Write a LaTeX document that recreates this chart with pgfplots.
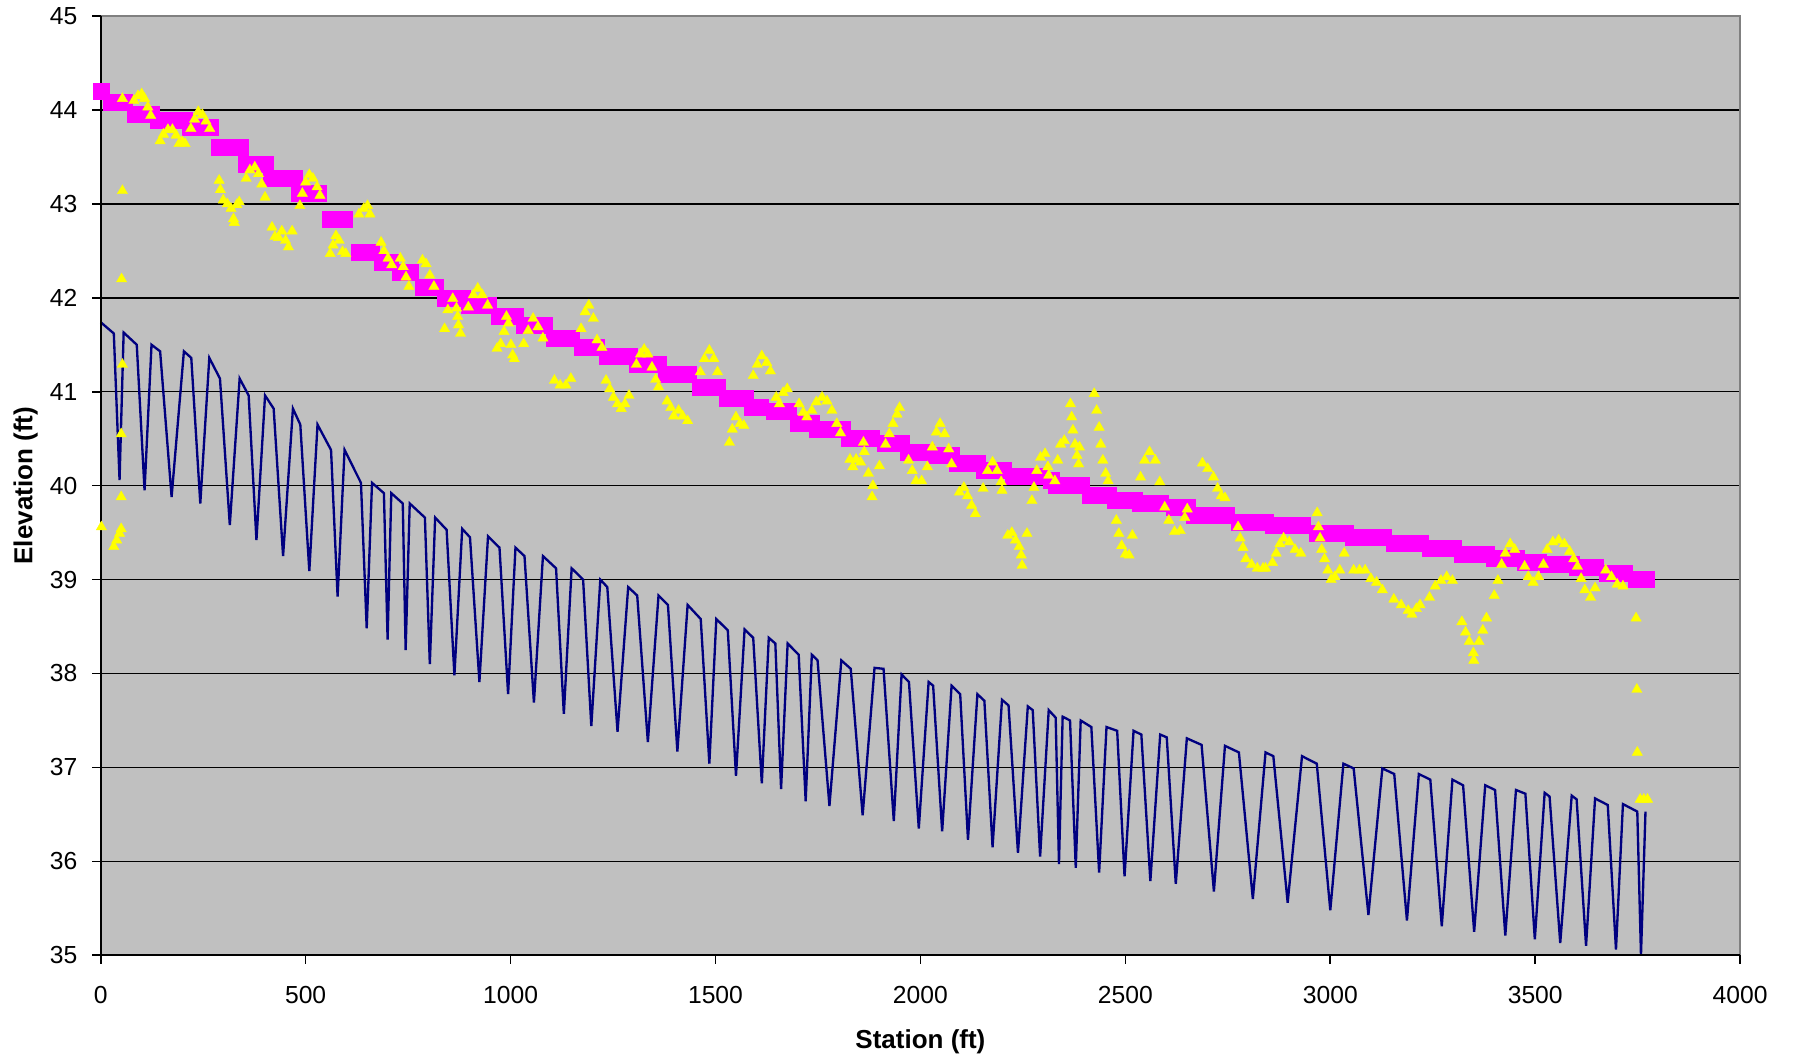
\documentclass[border=0pt]{standalone}
\usepackage{fontspec}
\setmainfont{Liberation Sans}
\usepackage{pgfplots}
\pgfplotsset{compat=1.18}
\definecolor{plotgray}{HTML}{C0C0C0}
\definecolor{bordergray}{HTML}{808080}
\definecolor{navyline}{HTML}{000080}
\definecolor{mag}{HTML}{FF00FF}
\definecolor{yel}{HTML}{FFFF00}
\begin{document}
\begin{tikzpicture}
\begin{axis}[
  at={(0,0)}, anchor=south west,
  scale only axis, width=491.85pt, height=281.8pt,
  xmin=0, xmax=4000, ymin=35, ymax=45,
  xtick={0,500,...,4000}, ytick={35,36,...,45},
  ymajorgrids, grid style={black, line width=0.45pt},
  axis background/.style={fill=plotgray},
  axis line style={draw=none},
  tick align=outside, tick pos=left,
  major tick length=2.5pt,
  tick style={black, line width=0.5pt},
  clip=false,
  /pgf/number format/assume math mode=true,
  /pgf/number format/set thousands separator={},
  ticklabel style={font=\fontsize{7.4}{8}\selectfont},
  xticklabel style={yshift=-3.4pt},
  yticklabel style={xshift=-1pt},
  xlabel={\textbf{Station (ft)}},
  ylabel={\textbf{Elevation (ft)}},
  label style={font=\fontsize{7.8}{9}\selectfont},
  xlabel style={at={(axis description cs:0.5,0)}, anchor=base, yshift=-28pt},
  ylabel style={at={(axis description cs:0,0.5)}, anchor=base, yshift=20.5pt},
]
% navy sawtooth
\addplot[navyline, line width=0.7pt, mark=none] coordinates {
(0,41.74) (32,41.62) (46,40.06) (56,41.63) (88,41.50) (107,39.95) (124,41.50) (145,41.43) (173,39.88)
(203,41.43) (221,41.36) (243,39.81) (265,41.36) (291,41.14) (315,39.58) (339,41.14) (361,40.96) (380,39.42)
(401,40.96) (422,40.82) (445,39.25) (469,40.82) (487,40.65) (509,39.09) (529,40.65) (562,40.38) (578,38.82)
(595,40.38) (635,40.03) (649,38.48) (662,40.03) (691,39.92) (700,38.36) (709,39.92) (737,39.81) (744,38.25)
(754,39.81) (791,39.66) (803,38.10) (816,39.66) (844,39.53) (863,37.98) (882,39.54) (901,39.45) (924,37.91)
(945,39.46) (973,39.34) (994,37.78) (1012,39.34) (1034,39.25) (1057,37.69) (1079,39.25) (1111,39.12) (1130,37.57)
(1149,39.12) (1177,39.00) (1197,37.44) (1219,39.00) (1236,38.92) (1261,37.38) (1287,38.92) (1309,38.83) (1335,37.27)
(1361,38.83) (1384,38.73) (1407,37.17) (1432,38.73) (1464,38.58) (1485,37.04) (1502,38.58) (1530,38.46) (1550,36.91)
(1571,38.47) (1592,38.38) (1613,36.83) (1630,38.38) (1646,38.32) (1660,36.77) (1676,38.32) (1703,38.20) (1720,36.64)
(1735,38.20) (1749,38.14) (1778,36.59) (1807,38.14) (1830,38.05) (1859,36.49) (1888,38.06) (1910,38.05) (1935,36.43)
(1954,37.99) (1972,37.91) (1996,36.35) (2020,37.91) (2031,37.87) (2053,36.32) (2076,37.87) (2097,37.78) (2116,36.23)
(2139,37.78) (2156,37.71) (2176,36.15) (2199,37.72) (2215,37.66) (2238,36.09) (2262,37.65) (2274,37.61) (2292,36.05)
(2313,37.61) (2330,37.53) (2338,35.97) (2347,37.54) (2365,37.50) (2379,35.93) (2391,37.50) (2417,37.43) (2436,35.88)
(2454,37.43) (2480,37.39) (2498,35.84) (2520,37.39) (2539,37.35) (2561,35.79) (2585,37.35) (2601,37.32) (2623,35.76)
(2650,37.31) (2686,37.24) (2716,35.68) (2743,37.23) (2777,37.16) (2811,35.60) (2842,37.16) (2861,37.12) (2896,35.56)
(2931,37.12) (2967,37.04) (3000,35.48) (3032,37.04) (3057,36.99) (3093,35.43) (3127,36.99) (3156,36.93) (3187,35.37)
(3216,36.93) (3244,36.87) (3272,35.31) (3298,36.87) (3324,36.81) (3351,35.25) (3378,36.81) (3402,36.76) (3427,35.21)
(3453,36.76) (3476,36.72) (3499,35.17) (3523,36.73) (3535,36.69) (3561,35.13) (3589,36.70) (3601,36.66) (3624,35.10)
(3646,36.67) (3677,36.60) (3697,35.06) (3714,36.61) (3749,36.53) (3758,35.00) (3769,36.53)
};
% magenta squares
\addplot[color=mag, only marks, mark=square*, mark size=2.4pt, mark options={solid, draw=mag, fill=mag, line width=0.1pt}] coordinates {
(1,44.20)
(26,44.08) (42,44.08) (58,44.08)
(85,43.96) (104,43.96) (123,43.96)
(141,43.89) (162,43.89) (182,43.89) (203,43.89)
(218,43.82) (242,43.82) (266,43.82)
(288,43.60) (314,43.60) (340,43.60)
(356,43.42) (379,43.42) (402,43.42)
(417,43.27) (444,43.27) (471,43.27)
(484,43.11) (508,43.11) (531,43.11)
(559,42.84) (577,42.84) (594,42.84)
(631,42.49) (646,42.49) (660,42.49)
(687,42.38) (707,42.38)
(731,42.27) (754,42.27)
(787,42.11) (802,42.11) (817,42.11)
(841,42.00) (862,42.00) (883,42.00)
(898,41.92) (922,41.92) (945,41.92)
(971,41.80) (991,41.80) (1011,41.80)
(1032,41.71) (1057,41.71) (1081,41.71)
(1107,41.57) (1128,41.57) (1148,41.57)
(1175,41.47) (1192,41.47) (1210,41.47)
(1235,41.38) (1262,41.38) (1289,41.38)
(1308,41.29) (1335,41.29) (1361,41.29)
(1380,41.19) (1407,41.19) (1433,41.19)
(1462,41.05) (1483,41.05) (1504,41.05)
(1529,40.93) (1551,40.93) (1573,40.93)
(1590,40.84) (1610,40.84)
(1644,40.79) (1661,40.79) (1678,40.79)
(1701,40.67) (1718,40.67) (1734,40.67)
(1747,40.60) (1768,40.60) (1789,40.60) (1809,40.60)
(1827,40.51) (1853,40.51) (1879,40.51)
(1913,40.45) (1934,40.45) (1954,40.45)
(1971,40.36) (1993,40.36) (2014,40.36)
(2039,40.32) (2057,40.32) (2075,40.32)
(2090,40.24) (2115,40.24) (2139,40.24)
(2155,40.17) (2178,40.17) (2201,40.17)
(2227,40.10) (2248,40.10) (2269,40.10) (2290,40.10)
(2320,40.06)
(2330,40.00) (2361,40.00) (2393,40.00)
(2414,39.90) (2436,39.90) (2458,39.90)
(2475,39.85) (2498,39.85) (2521,39.85)
(2537,39.81) (2562,39.81) (2586,39.81)
(2620,39.77) (2635,39.77) (2650,39.77)
(2668,39.69) (2694,39.69) (2720,39.69) (2745,39.69)
(2778,39.61) (2799,39.61) (2821,39.61) (2842,39.61)
(2861,39.58) (2885,39.58) (2908,39.58) (2932,39.58)
(2968,39.49) (2991,39.49) (3013,39.49) (3036,39.49)
(3057,39.45) (3081,39.45) (3105,39.45) (3129,39.45)
(3155,39.39) (3187,39.39) (3219,39.39)
(3243,39.33) (3272,39.33) (3300,39.33)
(3321,39.27) (3351,39.27) (3380,39.27)
(3400,39.23) (3427,39.23) (3454,39.23)
(3476,39.18) (3492,39.18) (3508,39.18)
(3532,39.16) (3560,39.16) (3588,39.16)
(3603,39.13) (3625,39.13) (3646,39.13)
(3675,39.07) (3696,39.07) (3716,39.07)
(3747,39.00) (3759,39.00) (3771,39.00)
};
% yellow triangles
\addplot[color=yel, only marks, mark=triangle*, mark size=1.8pt, mark options={solid, draw=yel, fill=yel, line width=0.1pt}] coordinates {
(1.7,39.56) (32,39.35) (39,39.42) (46,39.49) (50,39.54) (50,39.88) (50,40.55) (53,41.29) (51,42.20) (53,43.14)
(53,44.12) (81,44.10) (91,44.15) (100,44.17) (107,44.12) (115,44.03) (122,43.94)
(145,43.67) (153,43.74) (164,43.79) (175,43.79) (184,43.73) (191,43.64) (199,43.66) (206,43.64)
(220,43.80) (229,43.90) (238,43.98) (248,43.95) (257,43.88) (266,43.80)
(289,43.25) (292,43.15) (299,43.04) (309,43.00) (318,42.95) (324,42.84) (326,42.80) (332,42.99) (338,43.02)
(355,43.27) (364,43.36) (376,43.39) (385,43.32) (393,43.21) (401,43.07)
(418,42.75) (425,42.65) (434,42.64) (442,42.71) (451,42.61) (458,42.54) (467,42.71)
(486,42.98) (492,43.11) (500,43.23) (509,43.31) (518,43.27) (528,43.18) (535,43.09)
(560,42.47) (567,42.56) (574,42.66) (582,42.61) (590,42.49) (598,42.47)
(630,42.89) (642,42.95) (651,42.98) (657,42.89)
(684,42.59) (691,42.50) (701,42.42) (710,42.35)
(731,42.42) (738,42.33) (745,42.22) (752,42.12)
(785,42.40) (794,42.36) (803,42.24) (813,42.12)
(839,41.67) (847,41.87) (859,41.99) (868,41.89) (871,41.80) (873,41.71) (878,41.62)
(897,41.90) (909,42.03) (920,42.10) (931,42.03) (944,41.92)
(967,41.46) (976,41.51) (984,41.64) (990,41.80) (995,41.73) (1001,41.50) (1005,41.39) (1009,41.35)
(1032,41.51) (1043,41.65) (1055,41.78) (1067,41.69) (1079,41.57)
(1107,41.12) (1121,41.07) (1135,41.07) (1147,41.14)
(1172,41.67) (1182,41.85) (1191,41.92) (1202,41.78) (1211,41.55) (1223,41.47)
(1233,41.12) (1242,41.03) (1251,40.94) (1261,40.87) (1270,40.82) (1279,40.87) (1289,40.96)
(1307,41.29) (1317,41.40) (1326,41.45) (1335,41.40) (1345,41.26) (1354,41.13) (1361,41.05)
(1382,40.90) (1391,40.83) (1398,40.74) (1410,40.80) (1420,40.74) (1432,40.69)
(1463,41.21) (1473,41.35) (1485,41.44) (1496,41.35) (1505,41.21)
(1534,40.46) (1541,40.60) (1550,40.73) (1560,40.66) (1569,40.64)
(1592,41.17) (1602,41.29) (1613,41.38) (1625,41.31) (1634,41.22)
(1648,40.94) (1656,40.87) (1665,40.99) (1675,41.03)
(1704,40.87) (1714,40.78) (1723,40.73) (1735,40.80) (1746,40.89) (1760,40.94) (1772,40.90) (1784,40.80) (1796,40.66) (1805,40.56)
(1828,40.28) (1835,40.20) (1843,40.28) (1854,40.25) (1861,40.46) (1863,40.36) (1873,40.13) (1882,39.88) (1884,40.00) (1900,40.21)
(1915,40.44) (1924,40.55) (1933,40.66) (1943,40.76) (1949,40.83)
(1971,40.27) (1980,40.16) (1989,40.05) (2003,40.05) (2017,40.20)
(2029,40.41) (2039,40.57) (2048,40.66) (2059,40.55) (2069,40.39) (2076,40.23)
(2095,39.93) (2106,39.98) (2115,39.89) (2125,39.79) (2134,39.70)
(2153,39.97) (2164,40.16) (2176,40.25) (2187,40.16) (2197,40.04) (2199,39.95)
(2213,39.47) (2223,39.50) (2232,39.42) (2241,39.35) (2246,39.26) (2248,39.15) (2260,39.49)
(2272,39.84) (2277,39.98) (2284,40.16) (2293,40.30) (2304,40.34) (2311,40.20) (2313,40.11)
(2328,40.05) (2335,40.27) (2342,40.44) (2351,40.48)
(2366,40.87) (2369,40.73) (2372,40.59) (2377,40.44) (2382,40.32) (2386,40.23) (2388,40.41)
(2424,40.98) (2430,40.80) (2436,40.62) (2440,40.44) (2445,40.27) (2452,40.13) (2458,40.05)
(2478,39.63) (2484,39.49) (2491,39.36) (2500,39.27) (2509,39.26) (2517,39.47)
(2537,40.09) (2547,40.27) (2559,40.36) (2573,40.27) (2584,40.04)
(2596,39.77) (2606,39.63) (2620,39.51) (2634,39.52) (2645,39.66) (2651,39.75)
(2688,40.24) (2701,40.18) (2715,40.09) (2725,39.97) (2734,39.89) (2743,39.87)
(2775,39.56) (2780,39.44) (2787,39.34) (2794,39.22) (2808,39.16) (2822,39.12) (2836,39.12) (2842,39.12)
(2859,39.18) (2868,39.28) (2877,39.38) (2886,39.44) (2900,39.40) (2914,39.32) (2928,39.28)
(2968,39.71) (2971,39.56) (2975,39.44) (2979,39.32) (2986,39.22) (2994,39.10) (3002,39.00) (3011,39.03) (3023,39.10) (3034,39.28)
(3057,39.10) (3071,39.10) (3085,39.10) (3099,39.01) (3113,38.97) (3127,38.89)
(3155,38.79) (3173,38.73) (3190,38.67) (3199,38.63) (3210,38.69) (3219,38.73)
(3242,38.81) (3256,38.93) (3270,38.99) (3284,39.03) (3298,38.99)
(3321,38.55) (3330,38.44) (3339,38.34) (3349,38.22) (3350,38.14) (3363,38.34) (3372,38.46) (3381,38.59)
(3400,38.83) (3409,38.99) (3418,39.16) (3427,39.28) (3439,39.38) (3450,39.32)
(3474,39.14) (3483,39.03) (3495,38.97) (3508,39.03) (3520,39.16) (3529,39.32) (3543,39.40) (3557,39.42) (3571,39.38) (3584,39.30) (3594,39.22)
(3603,39.14) (3612,39.01) (3621,38.89) (3635,38.81) (3646,38.91)
(3672,39.10) (3686,39.03) (3700,38.95) (3714,38.93)
(3746,38.59) (3748,37.83) (3749,37.16) (3756,36.66) (3765,36.66) (3774,36.66)
};
% plot area border and axes
\draw[bordergray, line width=0.7pt] (rel axis cs:0,1) -- (rel axis cs:1,1) -- (rel axis cs:1,0);
\draw[black, line width=0.55pt] (rel axis cs:0,1) -- (rel axis cs:0,0) -- (rel axis cs:1,0);
\end{axis}
\pgfresetboundingbox
\path (-30.21pt,-30.81pt) rectangle (508.0pt,286.6pt);
\end{tikzpicture}
\end{document}
